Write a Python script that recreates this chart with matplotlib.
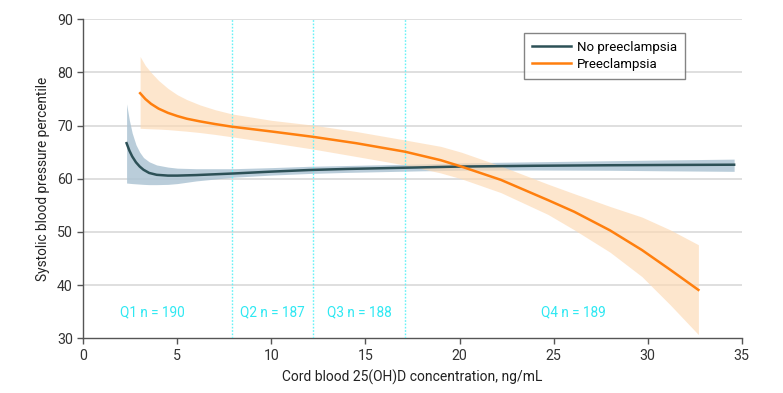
import matplotlib
matplotlib.use("Agg")
import matplotlib.pyplot as plt

# ---- data ----
no_x = [2.3, 2.45, 2.6, 2.8, 3.0, 3.2, 3.5, 3.9, 4.5, 5.0, 6.0, 8.0, 10.0, 12.0, 14.0, 16.0, 18.0, 20.0, 24.0, 28.0, 31.0, 34.6]
no_y = [66.7, 65.3, 64.2, 63.1, 62.3, 61.7, 61.1, 60.75, 60.6, 60.6, 60.7, 61.0, 61.35, 61.65, 61.85, 62.0, 62.15, 62.3, 62.45, 62.55, 62.6, 62.65]
no_lo = [59.2, 59.15, 59.1, 59.05, 59.0, 58.95, 58.9, 58.9, 58.95, 59.1, 59.6, 60.3, 60.7, 61.0, 61.2, 61.35, 61.5, 61.6, 61.65, 61.6, 61.5, 61.4]
no_hi = [74.1, 71.0, 68.6, 66.4, 65.0, 64.0, 63.2, 62.6, 62.2, 62.0, 61.9, 61.9, 62.1, 62.35, 62.5, 62.65, 62.8, 63.0, 63.2, 63.4, 63.55, 63.7]

pe_x = [3.02, 3.3, 3.6, 4.0, 4.5, 5.0, 5.5, 6.2, 7.0, 7.9, 10.0, 12.2, 14.5, 17.1, 19.0, 20.1, 22.2, 24.7, 26.1, 28.0, 29.7, 31.2, 32.7]
pe_y = [76.1, 75.0, 74.1, 73.2, 72.4, 71.8, 71.3, 70.8, 70.3, 69.8, 68.9, 67.9, 66.7, 65.1, 63.5, 62.3, 59.8, 56.0, 53.8, 50.3, 46.6, 42.9, 39.1]
pe_lo = [69.5, 69.45, 69.4, 69.35, 69.25, 69.1, 68.95, 68.7, 68.35, 67.9, 66.8, 65.6, 64.2, 62.6, 61.1, 60.0, 57.4, 53.3, 50.4, 46.2, 41.6, 36.3, 30.7]
pe_hi = [83.0, 81.3, 80.0, 78.5, 77.0, 75.8, 74.9, 73.9, 73.0, 72.2, 71.0, 70.1, 68.9, 67.3, 66.1, 65.0, 62.4, 59.0, 57.2, 54.8, 52.8, 50.4, 47.6]

quartile_cuts = [7.9, 12.2, 17.1]
q_labels = ["Q1 n = 190", "Q2 n = 187", "Q3 n = 188", "Q4 n = 189"]
q_label_x = [3.65, 10.05, 14.65, 26.05]
q_label_y = 34.9

series_names = ["No preeclampsia", "Preeclampsia"]

# ---- style ----
plt.rcParams['font.family'] = ["Roboto", "DejaVu Sans"]

dark = "#2d5157"
orange = "#ff7f0e"
cyan = "#2ee8f2"
axc = "#555555"

fig = plt.figure(figsize=(7.83, 3.93), dpi=100)
ax = fig.add_axes([0.1064, 0.1392, 0.8408, 0.8117])

ax.set_xlim(0, 35)
ax.set_ylim(30, 90)
ax.set_xticks([0, 5, 10, 15, 20, 25, 30, 35])
ax.set_yticks([30, 40, 50, 60, 70, 80, 90])
for yv in [40, 50, 60, 70, 80, 90]:
    ax.axhline(yv, color="#d9d9d9", lw=1.2, zorder=0)

ax.fill_between(no_x, no_lo, no_hi, color="#aec5d4", alpha=0.85, lw=0, zorder=1)
ax.fill_between(pe_x, pe_lo, pe_hi, color="#fdd9b3", alpha=0.65, lw=0, zorder=2)
ax.plot(no_x, no_y, color=dark, lw=1.8, zorder=4, label=series_names[0], solid_joinstyle="round")
ax.plot(pe_x, pe_y, color=orange, lw=1.8, zorder=5, label=series_names[1], solid_joinstyle="round")

for c in quartile_cuts:
    ax.axvline(c, color="#66f2f7", lw=1.0, ls=(0, (1.2, 1.2)), zorder=3)
for lab, xv in zip(q_labels, q_label_x):
    ax.text(xv, q_label_y, lab, color=cyan, fontsize=9.8, ha="center", va="center")

for s in ["top", "right"]:
    ax.spines[s].set_visible(False)
for s in ["left", "bottom"]:
    ax.spines[s].set_color(axc)
    ax.spines[s].set_linewidth(1.0)
ax.tick_params(colors="#333333", labelsize=10.2, length=4, width=1.0, direction="out")
ax.tick_params(axis="both", color=axc)

ax.set_xlabel("Cord blood 25(OH)D concentration, ng/mL", fontsize=10, color="#222222", labelpad=5)
ax.set_ylabel("Systolic blood pressure percentile", fontsize=9.8, color="#222222", labelpad=5)

leg = ax.legend(loc="upper left", bbox_to_anchor=(0.669, 0.957), borderaxespad=0, frameon=True,
                fancybox=False, edgecolor="#666666", fontsize=9.5, handlelength=3.0,
                handletextpad=0.4, borderpad=0.6, labelspacing=0.3)
leg.get_frame().set_linewidth(1.0)

fig.savefig("out.png", dpi=100)
